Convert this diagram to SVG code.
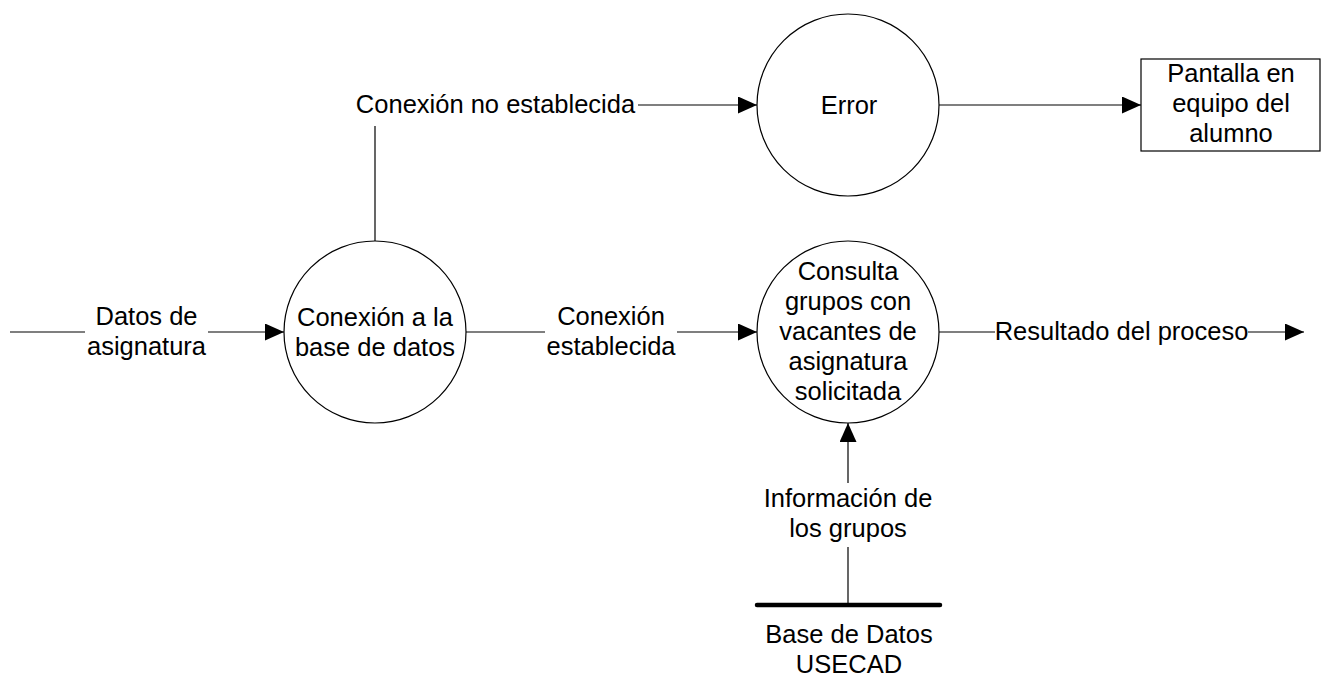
<svg xmlns="http://www.w3.org/2000/svg" width="1324" height="692" viewBox="0 0 1324 692">
<defs>
<style>
.t{font-family:"Liberation Sans",Arial,sans-serif;font-size:25.5px;fill:#000;text-anchor:middle}
.s{fill:#fff;stroke:#000;stroke-width:1.2}
.c{fill:none;stroke:#000;stroke-width:1.2}
</style>
<marker id="ah" markerUnits="userSpaceOnUse" markerWidth="19" markerHeight="17" refX="19" refY="8.5" orient="auto">
<path d="M0,0 L19,8.5 L0,17 z" fill="#000"/>
</marker>
</defs>
<rect width="1324" height="692" fill="#fff"/>
<g id="connectors">
<line class="c" x1="10" y1="332" x2="85" y2="332"/>
<line class="c" x1="208" y1="332" x2="284" y2="332" marker-end="url(#ah)"/>
<line class="c" x1="466" y1="332" x2="545" y2="332"/>
<line class="c" x1="677" y1="332" x2="757" y2="332" marker-end="url(#ah)"/>
<line class="c" x1="375" y1="241" x2="375" y2="126"/>
<line class="c" x1="638" y1="105" x2="757" y2="105" marker-end="url(#ah)"/>
<line class="c" x1="939" y1="105" x2="1141" y2="105" marker-end="url(#ah)"/>
<line class="c" x1="939" y1="332" x2="995" y2="332"/>
<line class="c" x1="1248" y1="332" x2="1304" y2="332" marker-end="url(#ah)"/>
<line class="c" x1="848" y1="605" x2="848" y2="547"/>
<line class="c" x1="848" y1="483" x2="848" y2="423" marker-end="url(#ah)"/>
<text class="t" x="146.5" y="325">Datos de</text>
<text class="t" x="146.5" y="355">asignatura</text>
<text class="t" x="611" y="325">Conexión</text>
<text class="t" x="611" y="355">establecida</text>
<text class="t" x="495.5" y="113">Conexión no establecida</text>
<text class="t" x="1121.5" y="340">Resultado del proceso</text>
<text class="t" x="848" y="507">Información de</text>
<text class="t" x="848" y="537">los grupos</text>
</g>
<g id="conexion">
<circle class="s" cx="375" cy="332" r="91"/>
<text class="t" x="375" y="326">Conexión a la</text>
<text class="t" x="375" y="356">base de datos</text>
</g>
<g id="consulta">
<circle class="s" cx="848" cy="332" r="91"/>
<text class="t" x="848" y="280">Consulta</text>
<text class="t" x="848" y="310">grupos con</text>
<text class="t" x="848" y="340">vacantes de</text>
<text class="t" x="848" y="370">asignatura</text>
<text class="t" x="848" y="400">solicitada</text>
</g>
<g id="error">
<circle class="s" cx="848" cy="105" r="91"/>
<text class="t" x="849" y="114">Error</text>
</g>
<g id="pantalla">
<rect class="s" x="1141" y="59" width="179" height="92"/>
<text class="t" x="1231" y="82">Pantalla en</text>
<text class="t" x="1231" y="112">equipo del</text>
<text class="t" x="1231" y="142">alumno</text>
</g>
<g id="basedatos">
<line x1="757" y1="605" x2="940" y2="605" stroke="#000" stroke-width="4.5" stroke-linecap="round"/>
<text class="t" x="849" y="643">Base de Datos</text>
<text class="t" x="849" y="673">USECAD</text>
</g>
</svg>
